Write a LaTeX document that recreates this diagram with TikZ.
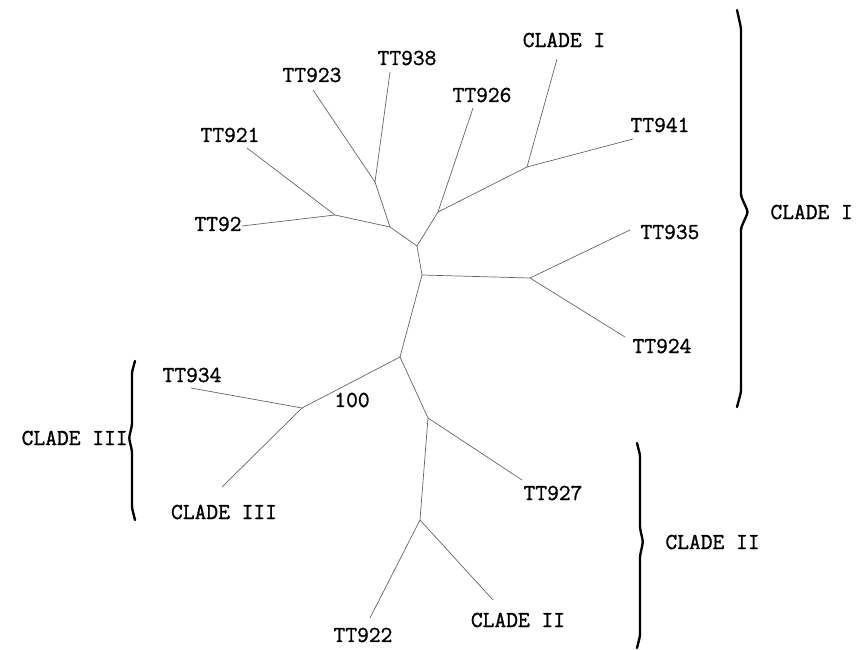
\documentclass[tikz,border=0pt]{standalone}
\usepackage{fontspec}
\newfontfamily\treefont[FakeBold=1.2]{Latin Modern Mono}
\usepackage{tikz}
\usetikzlibrary{calc}

\begin{document}
\begin{tikzpicture}[x=0.03cm, y=-0.03cm]
        \tikzset{
            leaf/.style={font=\treefont\fontsize{19.5}{22}\selectfont, inner sep=1pt, text=black},
            branch/.style={draw=black!60, line width=0.6pt},
            clade/.style={draw=black, line width=2pt, rounded corners=2pt, line cap=round}
        }
        \useasboundingbox (0,0) rectangle (867,650);

        % Inner junctions of the tree
        \coordinate (root) at (400,357);
        \coordinate (up) at (422,275);
        \coordinate (ja) at (417,246);
        \coordinate (jb) at (390,227);
        \coordinate (jc) at (375,182);
        \coordinate (jd) at (335,215);
        \coordinate (je) at (438,212);
        \coordinate (jf) at (527,167);
        \coordinate (jg) at (530,278);
        \coordinate (jh) at (302,408);
        \coordinate (ji) at (428,418);
        \coordinate (jj) at (420,520);

        % Branch tips
        \coordinate (e938) at (390,72);
        \coordinate (e923) at (313,90);
        \coordinate (e921) at (247,148);
        \coordinate (e92) at (242,226);
        \coordinate (e926) at (473,108);
        \coordinate (eI) at (557,59);
        \coordinate (e941) at (633,139);
        \coordinate (e935) at (630,230);
        \coordinate (e924) at (625,337);
        \coordinate (e934) at (191,388);
        \coordinate (eIII) at (222,487);
        \coordinate (e927) at (522,480);
        \coordinate (e922) at (370,618);
        \coordinate (eII) at (493,600);

        % Leaf labels
        \node[leaf] (t938) at (407,58) {TT938};
        \node[leaf] (t923) at (312,75) {TT923};
        \node[leaf] (t921) at (230,135) {TT921};
        \node[leaf] (t92) at (218,224) {TT92};
        \node[leaf] (t926) at (482,95) {TT926};
        \node[leaf] (cI) at (564,40) {CLADE I};
        \node[leaf] (t941) at (660,125) {TT941};
        \node[leaf] (t935) at (670,232) {TT935};
        \node[leaf] (t924) at (662,346) {TT924};
        \node[leaf] (t934) at (192,375) {TT934};
        \node[leaf] (boot) at (352,400) {100};
        \node[leaf] (cIII) at (224,512) {CLADE III};
        \node[leaf] (t927) at (553,493) {TT927};
        \node[leaf] (t922) at (363,635) {TT922};
        \node[leaf] (cII) at (518,620) {CLADE II};

        % Branches
        \path[branch] (root) -- (up) -- (ja);
        \path[branch] (up) -- (jg);
        \path[branch] (jg) -- (e935);
        \path[branch] (jg) -- (e924);
        \path[branch] (ja) -- (jb);
        \path[branch] (ja) -- (je);
        \path[branch] (jb) -- (jc);
        \path[branch] (jb) -- (jd);
        \path[branch] (jc) -- (e923);
        \path[branch] (jc) -- (e938);
        \path[branch] (jd) -- (e921);
        \path[branch] (jd) -- (e92);
        \path[branch] (je) -- (e926);
        \path[branch] (je) -- (jf);
        \path[branch] (jf) -- (eI);
        \path[branch] (jf) -- (e941);
        \path[branch] (root) -- (jh);
        \path[branch] (jh) -- (e934);
        \path[branch] (jh) -- (eIII);
        \path[branch] (root) -- (ji);
        \path[branch] (ji) -- (e927);
        \path[branch] (ji) -- (jj);
        \path[branch] (jj) -- (e922);
        \path[branch] (jj) -- (eII);

        % Clade brackets
        \coordinate (bI) at (748,212);
        \coordinate (bII) at (643,542);
        \coordinate (bIII) at (129,438);
        \path[clade] (737,10) -- (741,28) -- (741,196) -- (bI) -- (741,228) -- (741,392) -- (737,407);
        \path[clade] (637,443) -- (640,455) -- (640,528) -- (bII) -- (640,556) -- (640,636) -- (637,648);
        \path[clade] (135,361) -- (132,372) -- (132,425) -- (bIII) -- (132,451) -- (132,508) -- (135,520);
        \node[leaf, right=18pt] (gI) at (bI) {CLADE I};
        \node[leaf, right=18pt] (gII) at (bII) {CLADE II};
        \node[leaf, left=0pt] (gIII) at (bIII) {CLADE III};
\end{tikzpicture}
\end{document}
